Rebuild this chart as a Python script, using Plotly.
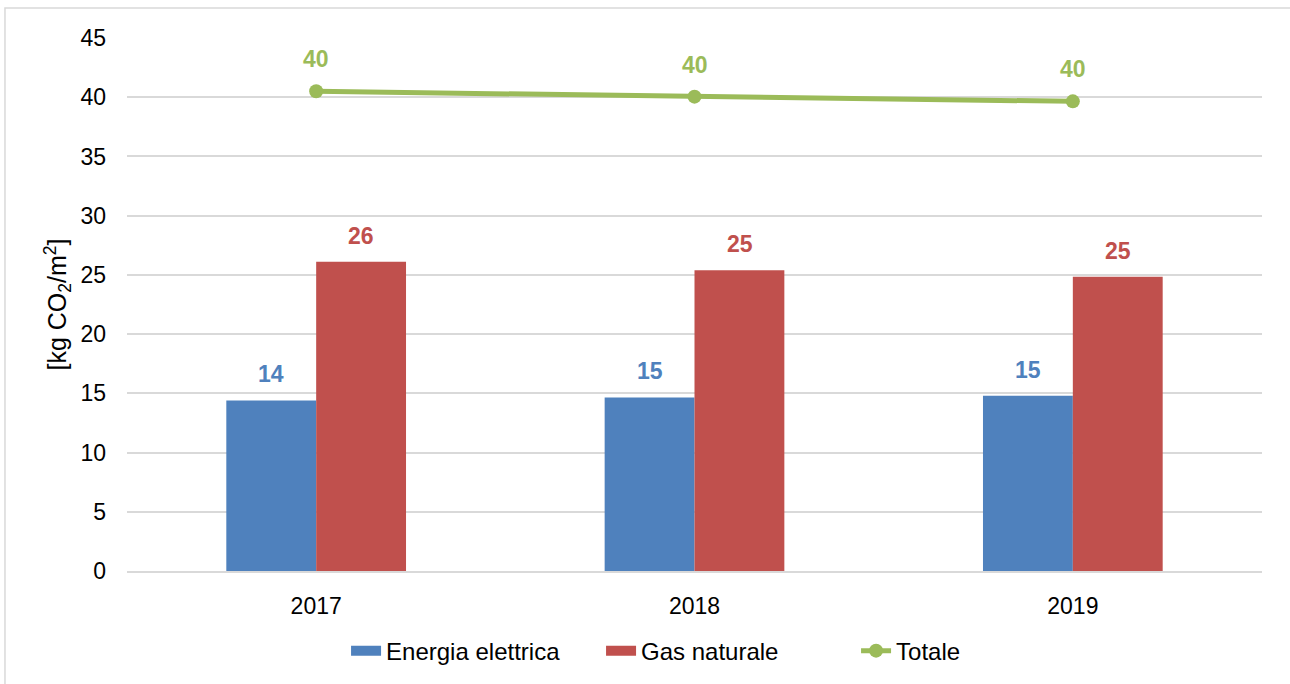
import plotly.graph_objects as go

# ── Data ────────────────────────────────────────────────────────────────────
years = ["2017", "2018", "2019"]
energia_elettrica = [14.4, 14.65, 14.8]
gas_naturale = [26.1, 25.4, 24.85]
totale = [40.5, 40.05, 39.65]

BLUE = "#4F81BD"
RED = "#C0504D"
GREEN = "#9BBB59"
FONT = "Liberation Sans, Arial, sans-serif"
FS = 23

fig = go.Figure()

# bars (legend drawn with wide swatches below, like Excel)
fig.add_trace(go.Bar(
    x=years, y=energia_elettrica, name="Energia elettrica",
    marker=dict(color=BLUE, line=dict(width=0)), showlegend=False,
))
fig.add_trace(go.Bar(
    x=years, y=gas_naturale, name="Gas naturale",
    marker=dict(color=RED, line=dict(width=0)), showlegend=False,
))
fig.add_trace(go.Scatter(
    x=years, y=totale, name="Totale", mode="lines+markers",
    line=dict(color=GREEN, width=5),
    marker=dict(color=GREEN, size=14),
    cliponaxis=False, showlegend=False,
))

# legend entries
for name, color in [("Energia elettrica", BLUE), ("Gas naturale", RED)]:
    fig.add_trace(go.Scatter(
        x=[years[0]], y=[None], name=name, mode="lines",
        line=dict(color=color, width=13),
    ))
fig.add_trace(go.Scatter(
    x=[years[0]], y=[None], name="Totale", mode="lines+markers",
    line=dict(color=GREEN, width=5), marker=dict(color=GREEN, size=14),
))

# ── Data labels (category index positions) ──────────────────────────────────
for series, color, shift in [(energia_elettrica, BLUE, -45), (gas_naturale, RED, 45)]:
    for i, v in enumerate(series):
        fig.add_annotation(
            x=i, y=v, text=f"{v:.0f}", showarrow=False,
            xshift=shift, yshift=26,
            font=dict(color=color, size=FS, family=FONT, weight="bold"),
        )
for i, v in enumerate(totale):
    fig.add_annotation(
        x=i, y=v, text=f"{v:.0f}", showarrow=False, yshift=32,
        font=dict(color=GREEN, size=FS, family=FONT, weight="bold"),
    )

# outer chart border (Excel chart area)
fig.add_shape(
    type="rect", xref="paper", yref="paper",
    x0=-0.1075, x1=1.03, y0=-0.3, y1=1.0562,
    line=dict(color="#D9D9D9", width=1.5), fillcolor="rgba(0,0,0,0)",
    layer="below",
)

fig.update_layout(
    width=1290, height=684,
    margin=dict(l=127, r=28, t=38, b=112),
    paper_bgcolor="white", plot_bgcolor="white",
    font=dict(family=FONT, size=FS, color="#000000"),
    barmode="group", bargap=0.525, bargroupgap=0,
    legend=dict(
        orientation="h", x=0.193, xanchor="left", y=-0.148, yanchor="middle",
        font=dict(size=24, color="#000000"),
        traceorder="normal", itemsizing="trace",
        entrywidth=210, entrywidthmode="pixels",
    ),
    yaxis=dict(
        range=[0, 45], dtick=5, showgrid=True, gridcolor="#D9D9D9", gridwidth=1.5,
        zeroline=False, showline=False, ticks="", ticklabelstandoff=20,
        tickfont=dict(size=FS),
        title=dict(text="[kg CO<sub>2</sub>/m<sup>2</sup>]", font=dict(size=25), standoff=6),
    ),
    xaxis=dict(
        type="category", categoryorder="array", categoryarray=years,
        showgrid=False, zeroline=False, showline=True, linecolor="#D9D9D9", linewidth=1.5,
        ticks="", tickfont=dict(size=FS), ticklabelstandoff=14,
    ),
)

fig.write_html(
    "out.html",
    config={"displayModeBar": False},
    post_script="document.body.style.margin='0';",
)
